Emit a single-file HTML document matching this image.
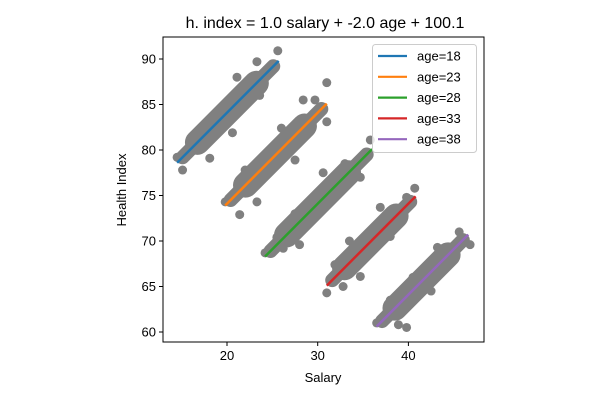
<!DOCTYPE html>
<html><head><meta charset="utf-8"><style>
body{margin:0;background:#fff;}
svg{display:block;font-family:"Liberation Sans","DejaVu Sans",sans-serif;}
</style></head><body>
<svg id="chart" width="600" height="400"></svg>
<script>
const ages = [18, 23, 28, 33, 38];
const colors = ['#1f77b4','#ff7f0e','#2ca02c','#d62728','#9467bd'];
const salaryMin = [14.5, 19.8, 24.2, 31.0, 36.5];
const salaryMax = [25.7, 31.0, 36.0, 40.8, 46.6];
const coefSalary = 1.0, coefAge = -2.0, intercept = 100.1;
const outliers = [
 [[14.5,79.2],[15.1,77.8],[25.6,90.9],[18.1,79.1],[20.6,81.9],[23.3,89.7],[23.6,86.0],[21.1,88.0],[16.5,80.8],[19.5,84.6]],
 [[31.0,87.4],[28.4,85.5],[29.7,85.5],[31.0,83.1],[21.4,72.9],[23.3,74.3],[27.5,78.9],[19.8,74.3],[22.0,77.8],[26.0,82.4]],
 [[35.8,81.1],[24.2,68.7],[26.2,69.2],[28.0,69.6],[34.7,77.0],[25.5,70.4],[30.6,77.5],[27.5,73.0],[33.0,78.5]],
 [[31.0,64.3],[32.8,65.0],[40.7,75.8],[34.7,66.1],[39.8,74.8],[36.9,73.7],[31.9,67.4],[33.5,70.0],[38.0,70.5]],
 [[36.5,61.0],[39.8,60.5],[38.9,60.8],[46.8,69.6],[45.6,71.0],[43.2,69.3],[38.0,63.5],[45.9,69.8],[40.5,66.0],[42.5,64.5]]
];
const xTicks = [20, 30, 40];
const yTicks = [60, 65, 70, 75, 80, 85, 90];

const L=163,R=484,T=37,B=342;
const X = s => 227 + (s-20)*9.07;
const Y = h => 59 + (90-h)*9.1;
const NS='http://www.w3.org/2000/svg';
const svg=document.getElementById('chart');
function mk(tag,attrs,parent){const e=document.createElementNS(NS,tag);for(const k in attrs)e.setAttribute(k,attrs[k]);(parent||svg).appendChild(e);return e;}
const fit=(s,a)=>coefSalary*s+coefAge*a+intercept;

let t=mk('text',{x:325,y:28,'text-anchor':'middle','font-size':16,fill:'#000'});
t.textContent='h. index = 1.0 salary + -2.0 age + 100.1';



ages.forEach((a,i)=>{
  const g=mk('g',{});
  
  
  const s0=salaryMin[i],s1=salaryMax[i],d=s1-s0;
  mk('line',{x1:X(s0+0.6),y1:Y(fit(s0+0.6,a)),x2:X(s1-0.6),y2:Y(fit(s1-0.6,a)),stroke:'#808080','stroke-width':14,'stroke-linecap':'round'},g);
  mk('line',{x1:X(s0+d*0.2),y1:Y(fit(s0+d*0.2,a)),x2:X(s1-d*0.22),y2:Y(fit(s1-d*0.22,a)),stroke:'#808080','stroke-width':25,'stroke-linecap':'round'},g);
  outliers[i].forEach(p=>{
    const c=mk('circle',{cx:X(p[0]),cy:Y(p[1]),r:4.5,fill:'#808080'},g);
    
    
  });
});
ages.forEach((a,i)=>{
  const l=mk('line',{x1:X(salaryMin[i]),y1:Y(fit(salaryMin[i],a)),x2:X(salaryMax[i]),y2:Y(fit(salaryMax[i],a)),stroke:colors[i],'stroke-width':2.5});
  
  
});
const frame=mk('rect',{x:L,y:T,width:R-L,height:B-T,fill:'none',stroke:'#000','stroke-width':1});



xTicks.forEach(v=>{
  mk('line',{x1:X(v),y1:B,x2:X(v),y2:B+4,stroke:'#000'});
  const tx=mk('text',{x:X(v),y:B+18,'text-anchor':'middle','font-size':13});
  tx.textContent=v;
  
  
});
yTicks.forEach(v=>{
  mk('line',{x1:L-4,y1:Y(v),x2:L,y2:Y(v),stroke:'#000'});
  const tx=mk('text',{x:L-7,y:Y(v)+4.5,'text-anchor':'end','font-size':13});
  tx.textContent=v;
  
  
});
t=mk('text',{x:323,y:382,'text-anchor':'middle','font-size':13});
t.textContent='Salary';


t=mk('text',{x:126,y:190,'text-anchor':'middle','font-size':13,transform:'rotate(-90 126 190)'});
t.textContent='Health Index';



const lg=mk('g',{});


mk('rect',{x:372.5,y:44.5,width:104,height:108,rx:3,fill:'#fff','fill-opacity':0.8,stroke:'#ccc'},lg);
ages.forEach((a,i)=>{
  const y=56+i*20.8;
  const e=mk('g',{},lg);
  
  
  mk('line',{x1:378,y1:y,x2:407,y2:y,stroke:colors[i],'stroke-width':2.2},e);
  const tx=mk('text',{x:417,y:y+4.5,'font-size':13},e);
  tx.textContent='age='+a;
});
</script>
</body></html>
